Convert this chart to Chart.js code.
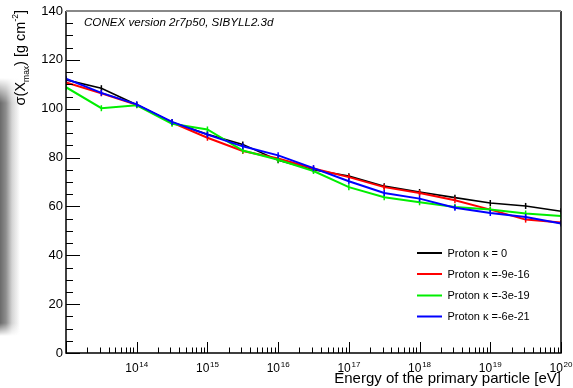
<!DOCTYPE html>
<html>
<head>
<meta charset="utf-8">
<script src="https://cdn.jsdelivr.net/npm/chart.js@4"></script>
<style>
  body { margin: 0; background: #fff; }
  #wrap { position: relative; width: 573px; height: 388px; }
  #shade { position: absolute; left: 0; top: 78px; width: 20px; height: 258px;
           background: linear-gradient(to right, #6a6a6a, #8e8e8e 30%, #d4d4d4 60%, rgba(255,255,255,0));
           -webkit-mask-image: linear-gradient(to bottom, transparent, #000 25px, #000 245px, transparent); }
  canvas { position: absolute; left: 0; top: 0; }
</style>
</head>
<body>
<div id="wrap">
  <div id="shade"></div>
  <canvas id="c" width="573" height="388"></canvas>
</div>
<script>
// log10 of the primary energy in eV
const logEnergy = [13, 13.5, 14, 14.5, 15, 15.5, 16, 16.5, 17, 17.5, 18, 18.5, 19, 19.5, 20];
const decadeLabels = [14, 15, 16, 17, 18, 19, 20];
const yLabels = [0, 20, 40, 60, 80, 100, 120, 140];

const seriesNames = ['Proton κ = 0', 'Proton κ =-9e-16', 'Proton κ =-3e-19', 'Proton κ =-6e-21'];
const kappa0   = [111.8, 108.4, 101.6, 94.5, 89.5, 85.4, 78.9, 75.0, 72.4, 68.3, 65.9, 63.6, 61.4, 60.2, 58.0];
const kappa916 = [110.8, 106.3, 101.6, 94.3, 88.1, 82.7, 79.6, 75.5, 72.0, 67.9, 65.5, 62.5, 58.7, 54.6, 53.4];
const kappa319 = [108.8, 100.2, 101.4, 93.8, 91.5, 82.9, 79.1, 74.5, 67.9, 63.8, 61.7, 59.8, 58.7, 57.1, 56.1];
const kappa621 = [112.3, 106.5, 101.8, 94.6, 89.4, 84.6, 80.9, 75.7, 70.3, 65.5, 63.2, 59.5, 57.3, 55.7, 53.0];

const colors = ['#000000', '#ff0000', '#00ee00', '#0000ff'];
const FONT = '"Liberation Sans", Arial, sans-serif';

function pts(vals) {
    return vals.map((v, i) => ({ x: Math.pow(10, logEnergy[i]), y: v }));
}

function isDecade(v) {
    const l = Math.log10(v);
    return Math.abs(l - Math.round(l)) < 1e-6;
}

// ROOT-like frame, inner ticks, labels and legend
const rootStyle = {
    id: 'rootStyle',
    afterDraw(chart) {
        const { ctx, chartArea: a, scales: { x, y } } = chart;
        ctx.save();

        // ticks inside the frame
        ctx.strokeStyle = '#000';
        ctx.lineWidth = 1;
        ctx.beginPath();
        x.ticks.forEach(t => {
            const px = Math.round(x.getPixelForValue(t.value)) + 0.5;
            const len = isDecade(t.value) ? 11 : 5.5;
            ctx.moveTo(px, a.bottom);
            ctx.lineTo(px, a.bottom - len);
        });
        y.ticks.forEach(t => {
            const py = Math.round(y.getPixelForValue(t.value)) + 0.5;
            const len = t.value % 20 === 0 ? 14 : 7;
            ctx.moveTo(a.left, py);
            ctx.lineTo(a.left + len, py);
        });
        ctx.stroke();

        // frame
        ctx.lineWidth = 1.5;
        ctx.strokeStyle = '#000';
        ctx.beginPath();
        ctx.moveTo(a.left, a.top);
        ctx.lineTo(a.left, a.bottom);
        ctx.lineTo(a.right, a.bottom);
        ctx.lineTo(a.right, a.top);
        ctx.stroke();
        ctx.strokeStyle = '#888';
        ctx.lineWidth = 2;
        ctx.beginPath();
        ctx.moveTo(a.left, a.top);
        ctx.lineTo(a.right, a.top);
        ctx.stroke();

        // y tick labels
        ctx.fillStyle = '#000';
        ctx.font = '13px ' + FONT;
        ctx.textAlign = 'right';
        ctx.textBaseline = 'middle';
        yLabels.forEach(v => ctx.fillText(String(v), a.left - 3, y.getPixelForValue(v)));

        // x tick labels 10^n, centred on the decade tick
        ctx.textAlign = 'left';
        ctx.textBaseline = 'alphabetic';
        decadeLabels.forEach(n => {
            const px = x.getPixelForValue(Math.pow(10, n));
            ctx.font = '12px ' + FONT;
            const wBase = ctx.measureText('10').width;
            ctx.font = '8px ' + FONT;
            const wExp = ctx.measureText(String(n)).width;
            const x0 = px - (wBase + wExp + 0.7) / 2;
            ctx.font = '12px ' + FONT;
            ctx.fillText('10', x0, 371.5);
            ctx.font = '8px ' + FONT;
            ctx.fillText(String(n), x0 + wBase + 0.7, 366.5);
        });

        // x title
        ctx.font = '15px ' + FONT;
        ctx.textAlign = 'right';
        ctx.textBaseline = 'alphabetic';
        ctx.fillText('Energy of the primary particle [eV]', a.right, 382.5);

        // y title, right aligned at the top of the axis
        const parts = [
            ['σ(X', 14.5, 0], ['max', 8.5, 6], [') [g cm', 14.5, 0], ['-2', 8.5, -5], [']', 14.5, 0]
        ];
        ctx.save();
        ctx.translate(21, a.top - 1);
        ctx.rotate(-Math.PI / 2);
        ctx.textAlign = 'left';
        ctx.textBaseline = 'middle';
        let total = 0;
        parts.forEach(p => { ctx.font = p[1] + 'px ' + FONT; total += ctx.measureText(p[0]).width; });
        let cx = -total;
        parts.forEach(p => {
            ctx.font = p[1] + 'px ' + FONT;
            ctx.fillText(p[0], cx, p[2]);
            cx += ctx.measureText(p[0]).width;
        });
        ctx.restore();

        // text in the frame
        ctx.font = 'italic 11.6px ' + FONT;
        ctx.textAlign = 'left';
        ctx.textBaseline = 'middle';
        ctx.fillText('CONEX version 2r7p50, SIBYLL2.3d', 84, 23);

        // legend
        const rows = [253, 274, 295.5, 316.5];
        ctx.font = '11px ' + FONT;
        seriesNames.forEach((name, i) => {
            ctx.strokeStyle = colors[i];
            ctx.lineWidth = 2;
            ctx.beginPath();
            ctx.moveTo(417, rows[i]);
            ctx.lineTo(442, rows[i]);
            ctx.stroke();
            ctx.fillStyle = '#000';
            ctx.fillText(name, 447.5, rows[i] + 0.5);
        });

        ctx.restore();
    }
};

const series = [kappa0, kappa916, kappa319, kappa621];

new Chart(document.getElementById('c'), {
    type: 'line',
    data: {
        datasets: series.map((vals, i) => ({
            label: seriesNames[i],
            data: pts(vals),
            borderColor: colors[i],
            backgroundColor: colors[i],
            borderWidth: i === 0 ? 1.6 : 2,
            pointStyle: 'line',
            rotation: 90,
            pointRadius: 3,
            pointBorderWidth: 1.5,
            pointHoverRadius: 3,
            tension: 0,
            fill: false,
            order: 3 - i
        }))
    },
    options: {
        responsive: false,
        animation: false,
        layout: { padding: { top: 11, right: 12, left: 0, bottom: 0 } },
        plugins: { legend: { display: false }, tooltip: { enabled: false } },
        scales: {
            x: {
                type: 'logarithmic',
                min: 1e13,
                max: 1e20,
                grid: { display: false },
                border: { display: false },
                ticks: { display: false },
                afterBuildTicks: s => {
                    const t = [];
                    for (let e = 13; e < 20; e++) {
                        for (let m = 1; m <= 9; m++) t.push({ value: m * Math.pow(10, e) });
                    }
                    t.push({ value: 1e20 });
                    s.ticks = t;
                },
                afterFit: s => { s.height = 35; }
            },
            y: {
                min: 0,
                max: 140,
                grid: { display: false },
                border: { display: false },
                ticks: { display: false },
                afterBuildTicks: s => {
                    const t = [];
                    for (let v = 0; v <= 140; v += 5) t.push({ value: v });
                    s.ticks = t;
                },
                afterFit: s => { s.width = 66; }
            }
        }
    },
    plugins: [rootStyle]
});
</script>
</body>
</html>
